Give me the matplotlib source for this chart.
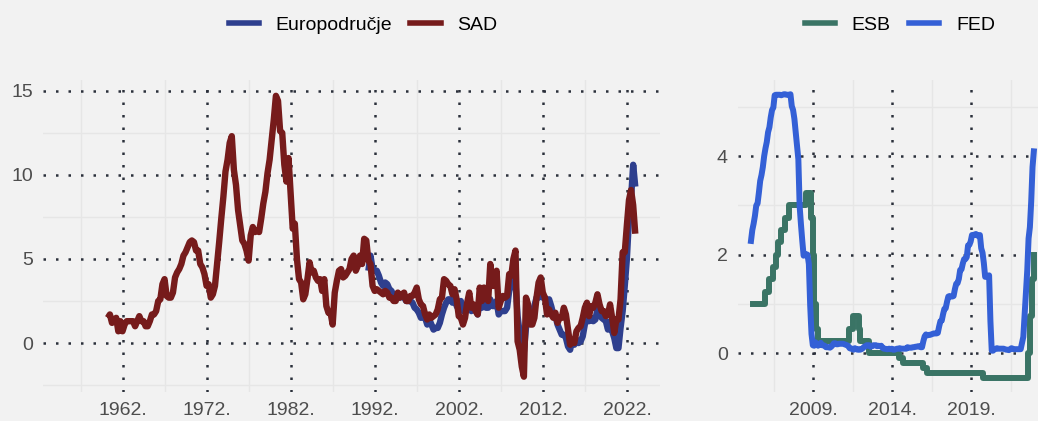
import numpy as np
import matplotlib
matplotlib.use('Agg')
import matplotlib.pyplot as plt
from matplotlib.lines import Line2D

plt.rcParams['font.family'] = ['Liberation Sans', 'DejaVu Sans']

# inflacija, god. stopa, kraj tromjesecja
sad_start = 1960
sad = [
    1.5, 1.7, 1.2, 1.4,  1.5, 0.7, 1.3, 0.7,  1.1, 1.3, 1.3, 1.3,  1.3, 1.0, 1.3, 1.6,
    1.3, 1.3, 1.0, 1.0,  1.3, 1.7, 1.7, 1.9,  2.5, 2.6, 3.5, 3.8,  2.8, 2.7, 2.7, 3.0,
    3.9, 4.2, 4.4, 4.7,  5.2, 5.4, 5.7, 6.0,  6.1, 6.0, 5.5, 5.5,  4.7, 4.5, 4.1, 3.4,
    3.5, 2.7, 2.9, 3.4,  4.7, 6.0, 7.4, 8.7,  10.2, 10.9, 11.9, 12.3,  10.3, 9.4, 7.9, 7.0,
    6.1, 5.9, 5.5, 4.9,  6.4, 6.9, 6.6, 6.7,  6.6, 7.4, 8.3, 9.0,  10.1, 10.9, 12.1, 13.3,
    14.7, 14.4, 12.6, 12.5,  10.6, 9.6, 11.0, 8.9,  6.8, 7.1, 5.0, 3.8,  3.6, 2.6, 2.9, 3.8,
    4.8, 4.2, 4.3, 3.9,  3.7, 3.8, 3.1, 3.8,  2.2, 1.8, 1.8, 1.1,  3.0, 3.7, 4.3, 4.4,
    3.9, 4.0, 4.2, 4.4,  5.0, 5.2, 4.3, 4.6,  5.2, 4.7, 6.2, 6.1,  4.9, 4.7, 3.4, 3.1,
    3.2, 3.1, 3.0, 2.9,  3.1, 3.0, 2.7, 2.7,  2.5, 2.5, 3.0, 2.7,  2.9, 3.0, 2.5, 2.5,
    2.8, 2.8, 3.0, 3.3,  2.6, 2.3, 2.2, 1.7,  1.4, 1.7, 1.5, 1.6,  1.7, 2.0, 2.6, 2.7,
    3.8, 3.7, 3.5, 3.4,  2.9, 3.2, 2.6, 1.6,  1.5, 1.1, 1.5, 2.4,  3.0, 2.1, 2.3, 1.9,
    1.7, 3.3, 2.5, 3.3,  3.1, 2.5, 4.7, 3.4,  3.4, 4.3, 2.1, 2.5,  2.8, 2.7, 2.8, 4.1,
    4.0, 5.0, 5.5, 0.1,  -0.4, -1.4, -2.0, 2.7,  2.3, 1.1, 1.1, 1.5,  2.7, 3.6, 3.9, 3.0,
    2.7, 1.7, 2.0, 1.7,  1.5, 1.8, 1.2, 1.5,  1.5, 2.1, 1.7, 0.8,  -0.1, 0.1, 0.0, 0.7,
    0.9, 1.0, 1.5, 2.1,  2.4, 1.6, 2.2, 2.1,  2.4, 2.9, 2.3, 1.9,  1.9, 1.6, 1.7, 2.3,
    1.5, 0.6, 1.4, 1.4,  2.6, 5.4, 5.4, 7.0,  8.5, 9.1, 8.2, 6.5,
]
ea_start = 1991
europodrucje = [
    4.3, 5.2, 4.4, 4.3,  4.3, 4.0, 3.6, 3.4,  3.6, 3.5, 3.2, 3.1,  2.8, 2.8, 2.8, 2.7,
    2.8, 2.7, 2.5, 2.5,  2.5, 2.4, 2.1, 2.0,  1.8, 1.5, 1.6, 1.5,  1.1, 1.4, 1.1, 0.8,
    0.9, 0.9, 1.2, 1.7,  2.1, 2.4, 2.6, 2.6,  2.4, 2.8, 2.2, 2.0,  2.5, 1.9, 2.1, 2.3,
    2.5, 1.9, 2.2, 2.0,  1.7, 2.4, 2.1, 2.4,  2.1, 2.1, 2.6, 2.2,  2.2, 2.5, 1.7, 1.9,
    1.9, 1.9, 2.1, 3.1,  3.6, 4.0, 3.6, 1.6,  0.6, -0.1, -0.5, 0.9,  1.6, 1.5, 1.9, 2.2,
    2.7, 2.7, 3.0, 2.7,  2.7, 2.4, 2.6, 2.2,  1.7, 1.6, 1.1, 0.8,  0.5, 0.5, 0.3, -0.2,
    -0.4, 0.2, -0.1, 0.2,  0.0, 0.1, 0.4, 1.1,  1.5, 1.3, 1.5, 1.3,  1.4, 2.0, 2.1, 1.5,
    1.4, 1.3, 0.8, 1.3,  0.7, 0.3, -0.3, -0.3,  0.9, 1.9, 3.4, 5.0,  7.4, 8.6, 10.6, 9.3,
]

# kamatne stope
fed_start = 2005
fed = [
    2.28, 2.50, 2.63, 2.79, 3.00, 3.04, 3.26, 3.50, 3.62, 3.78, 4.00, 4.16,
    4.29, 4.49, 4.59, 4.79, 4.94, 4.99, 5.24, 5.25, 5.25, 5.25, 5.25, 5.24,
    5.25, 5.26, 5.26, 5.25, 5.25, 5.25, 5.26, 5.02, 4.94, 4.76, 4.49, 4.24,
    3.94, 2.98, 2.61, 2.28, 1.98, 2.00, 2.01, 2.00, 1.81, 0.97, 0.39, 0.16,
    0.15, 0.22, 0.18, 0.15, 0.18, 0.21, 0.16, 0.16, 0.15, 0.12, 0.12, 0.12,
    0.11, 0.13, 0.16, 0.20, 0.20, 0.18, 0.18, 0.19, 0.19, 0.19, 0.19, 0.18,
    0.17, 0.16, 0.14, 0.10, 0.09, 0.09, 0.07, 0.10, 0.08, 0.07, 0.08, 0.07,
    0.08, 0.10, 0.13, 0.14, 0.16, 0.16, 0.16, 0.13, 0.14, 0.16, 0.16, 0.16,
    0.14, 0.15, 0.14, 0.15, 0.11, 0.09, 0.09, 0.08, 0.08, 0.09, 0.08, 0.09,
    0.07, 0.07, 0.08, 0.09, 0.09, 0.10, 0.09, 0.09, 0.09, 0.09, 0.09, 0.12,
    0.11, 0.11, 0.11, 0.12, 0.12, 0.13, 0.13, 0.14, 0.14, 0.12, 0.12, 0.24,
    0.34, 0.38, 0.36, 0.37, 0.37, 0.38, 0.39, 0.40, 0.40, 0.40, 0.41, 0.54,
    0.65, 0.66, 0.79, 0.90, 0.91, 1.04, 1.15, 1.16, 1.15, 1.15, 1.16, 1.30,
    1.41, 1.42, 1.51, 1.69, 1.70, 1.82, 1.91, 1.91, 1.95, 2.19, 2.20, 2.27,
    2.40, 2.40, 2.41, 2.42, 2.39, 2.38, 2.40, 2.13, 2.04, 1.83, 1.55, 1.55,
    1.55, 1.58, 0.65, 0.05, 0.05, 0.08, 0.09, 0.10, 0.09, 0.09, 0.09, 0.09,
    0.09, 0.08, 0.07, 0.07, 0.06, 0.08, 0.10, 0.09, 0.08, 0.08, 0.08, 0.08,
    0.08, 0.08, 0.20, 0.33, 0.77, 1.21, 1.68, 2.33, 2.56, 3.08, 3.78, 4.10,
]
esb_datumi = [2005.17, 2005.93, 2006.19, 2006.46, 2006.61, 2006.78, 2006.95, 2007.20,
              2007.45, 2008.52, 2008.87, 2008.94, 2009.05, 2009.19, 2009.27, 2011.28,
              2011.53, 2011.86, 2011.95, 2012.52, 2014.44, 2014.69, 2015.94, 2016.21,
              2019.71, 2022.57, 2022.70, 2022.84, 2022.97, 2023.0]
esb = [1.00, 1.25, 1.50, 1.75, 2.00, 2.25, 2.50, 2.75,
       3.00, 3.25, 2.75, 2.00, 1.00, 0.50, 0.25, 0.50,
       0.75, 0.50, 0.25, 0.00, -0.10, -0.20, -0.30, -0.40,
       -0.50, 0.00, 0.75, 1.50, 2.00, 2.00]

god_lijevo = [1962, 1972, 1982, 1992, 2002, 2012, 2022]
god_desno = [2009, 2014, 2019]

BG = '#f2f2f2'
GRID = '#2b303b'
MINOR = '#e6e6e6'
c_ea = '#2e3f8e'
c_sad = '#761b1b'
c_esb = '#3a7465'
c_fed = '#3460d6'


def qx(start, n):
    # kraj tromjesecja (sredina zadnjeg mjeseca)
    return start + (3 * np.arange(n) + 2.5) / 12


def style(ax, xt, yt, xminor, yminor):
    ax.set_facecolor(BG)
    for s in ax.spines.values():
        s.set_visible(False)
    for v in xminor:
        ax.axvline(v, color=MINOR, lw=1.0, zorder=0)
    for v in yminor:
        ax.axhline(v, color=MINOR, lw=1.0, zorder=0)
    for v in xt:
        ax.axvline(v, color=GRID, lw=1.8, ls=(0, (1, 4)), zorder=1)
    for v in yt:
        ax.axhline(v, color=GRID, lw=1.8, ls=(0, (1, 4)), zorder=1)
    ax.set_xticks(xt)
    ax.set_xticklabels([f'{g}.' for g in xt])
    ax.set_yticks(yt)
    ax.tick_params(length=0, labelsize=14, labelcolor='#4d4d4d', pad=7)


fig = plt.figure(figsize=(10.38, 4.21), dpi=100)
fig.patch.set_facecolor(BG)

ax1 = fig.add_axes([43 / 1038, 29 / 421, 617 / 1038, 312 / 421])
style(ax1, god_lijevo, [0, 5, 10, 15],
      [g - 5 for g in god_lijevo], [-2.5, 2.5, 7.5, 12.5])
ax1.plot(qx(ea_start, len(europodrucje)), europodrucje, color=c_ea, lw=4.6,
         solid_joinstyle='round', solid_capstyle='butt', zorder=3)
ax1.plot(qx(sad_start, len(sad)), sad, color=c_sad, lw=4.6,
         solid_joinstyle='round', solid_capstyle='butt', zorder=4)
ax1.set_xlim(1952.5, 2025.9)
ax1.set_ylim(-2.91, 15.64)

ax2 = fig.add_axes([737.7 / 1038, 29 / 421, 311 / 1038, 312 / 421])
style(ax2, god_desno, [0, 2, 4],
      [2006.5, 2011.5, 2016.5, 2021.5], [1, 3, 5])
ax2.plot(esb_datumi, esb, color=c_esb, lw=4.3, drawstyle='steps-post', zorder=3)
ax2.plot(fed_start + (np.arange(len(fed)) + 0.5) / 12, fed, color=c_fed, lw=4.3,
         solid_joinstyle='round', zorder=4)
ax2.set_xlim(2004.2, 2023.9)
ax2.set_ylim(-0.79, 5.55)

leg_kw = dict(loc='center', ncol=2, frameon=False, fontsize=14, handlelength=1.55,
              handletextpad=0.85, columnspacing=0.95)
h1 = [Line2D([], [], color=c_ea, lw=4), Line2D([], [], color=c_sad, lw=4)]
fig.legend(h1, ['Europodručje', 'SAD'], bbox_to_anchor=(363 / 1038, 1 - 25 / 421), **leg_kw)
h2 = [Line2D([], [], color=c_esb, lw=4), Line2D([], [], color=c_fed, lw=4)]
fig.legend(h2, ['ESB', 'FED'], bbox_to_anchor=(900 / 1038, 1 - 25 / 421), **leg_kw)

fig.savefig('out.png', dpi=100, facecolor=BG)
